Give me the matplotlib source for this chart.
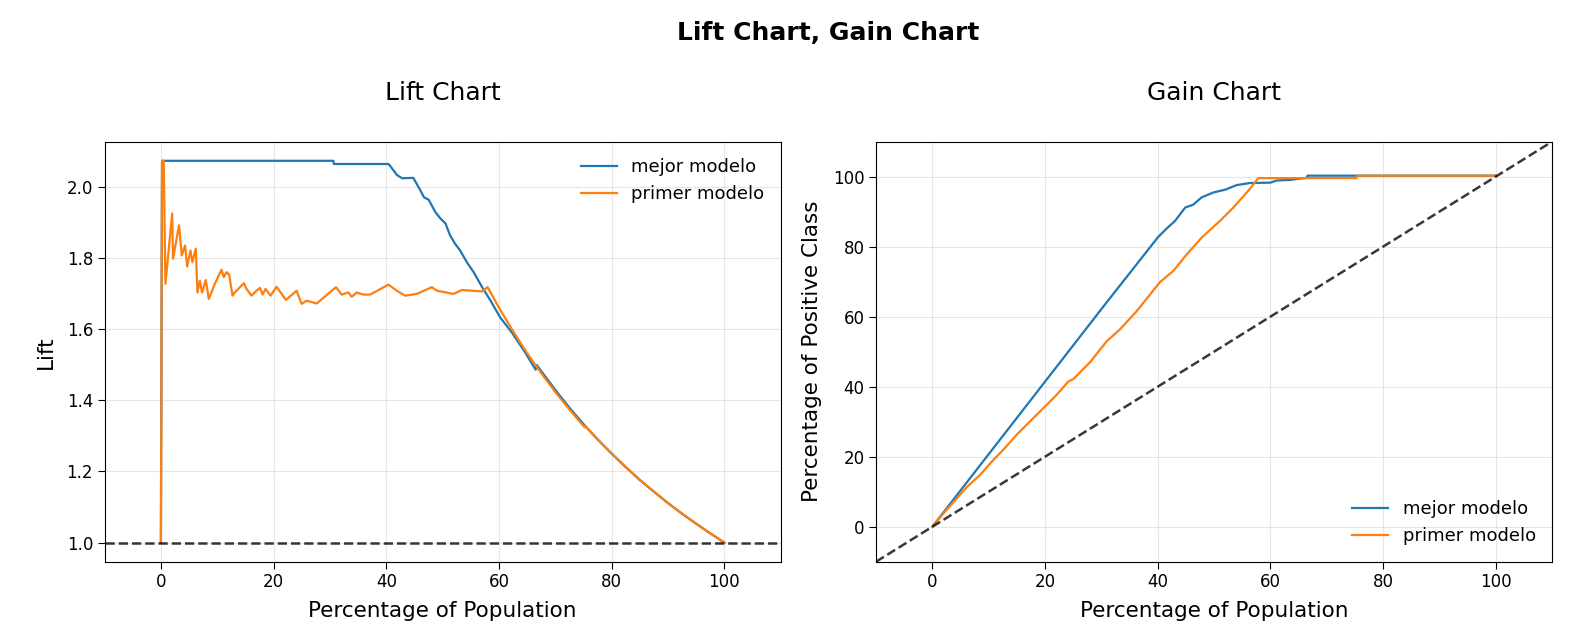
import matplotlib
matplotlib.use("Agg")
import matplotlib.pyplot as plt

# values
# lift chart - mejor modelo
lift_x_mejor = [0, 0.2, 30.6, 30.7, 40.4, 41.0, 41.9, 42.8, 44.8, 46.0, 46.7, 47.5,
                48.7, 49.6, 50.5, 51.3, 52.2, 53.1, 54.3, 55.5, 57.0, 58.5, 60.2,
                62.3, 64.5, 66.5, 66.7, 70, 72.5, 75, 77.5, 80, 82.5, 85, 87.5,
                90, 92.5, 95, 97.5, 100]
lift_y_mejor = [1.0, 2.073, 2.073, 2.064, 2.064, 2.052, 2.033, 2.024, 2.025, 1.991,
                1.970, 1.964, 1.929, 1.911, 1.897, 1.864, 1.840, 1.821, 1.788,
                1.760, 1.718, 1.680, 1.633, 1.590, 1.538, 1.486, 1.499, 1.429,
                1.379, 1.333, 1.290, 1.250, 1.212, 1.176, 1.143, 1.111, 1.081,
                1.053, 1.026, 1.0]

# lift chart - primer modelo
lift_x_primer = [0, 0.2, 0.5, 0.8, 2.0, 2.15, 3.22, 3.70, 4.29, 4.65, 5.24, 5.59,
                 6.19, 6.48, 6.90, 7.31, 7.96, 8.50, 9.56, 10.75, 11.16, 11.64,
                 12.11, 12.71, 13.12, 14.72, 15.19, 16.08, 16.97, 17.56, 18.04,
                 18.57, 19.46, 20.53, 22.19, 24.08, 24.97, 25.86, 27.64, 31.08,
                 32.08, 33.27, 33.86, 34.75, 35.93, 37.12, 40.38, 41.86, 43.34,
                 45.42, 48.08, 48.97, 51.93, 53.42, 56.97, 57.98, 60, 62.5, 65,
                 67.5, 70, 72.5, 75.2, 75.3, 77.5, 80, 82.5, 85, 87.5, 90, 92.5,
                 95, 97.5, 100]
lift_y_primer = [1.0, 2.073, 2.073, 1.727, 1.925, 1.798, 1.892, 1.807, 1.835, 1.776,
                 1.821, 1.788, 1.826, 1.703, 1.736, 1.703, 1.738, 1.685, 1.727,
                 1.767, 1.746, 1.760, 1.753, 1.694, 1.703, 1.729, 1.713, 1.694,
                 1.708, 1.716, 1.697, 1.713, 1.694, 1.719, 1.682, 1.708, 1.671,
                 1.680, 1.672, 1.718, 1.697, 1.703, 1.691, 1.703, 1.697, 1.697,
                 1.725, 1.708, 1.694, 1.699, 1.718, 1.708, 1.699, 1.710, 1.706,
                 1.718, 1.660, 1.594, 1.532, 1.476, 1.423, 1.374, 1.324, 1.328,
                 1.290, 1.250, 1.212, 1.176, 1.143, 1.111, 1.081, 1.053, 1.026, 1.0]

# gain chart - mejor modelo
gain_x_mejor = [0, 30.6, 40.1, 41.6, 43.1, 44.9, 46.3, 47.8, 49.9, 52.0, 54.0,
                56.4, 60.0, 61.1, 63.5, 66.5, 66.6, 100]
gain_y_mejor = [0, 63.4, 82.8, 85.2, 87.4, 91.2, 92.0, 94.1, 95.5, 96.3, 97.6,
                98.2, 98.3, 98.9, 99.1, 99.7, 100.3, 100.3]

# gain chart - primer modelo
gain_x_primer = [0, 0.5, 2.0, 3.2, 6.1, 8.47, 10.83, 12.61, 14.98, 18.53, 20.6,
                 22.08, 24.15, 25.04, 28.0, 30.96, 33.32, 36.28, 40.42, 42.79,
                 45.16, 47.82, 51.07, 53.44, 56.1, 57.88, 75.3, 75.4, 100]
gain_y_primer = [0, 1.0, 3.85, 6.05, 11.3, 14.8, 19.1, 22.0, 26.3, 32.0, 35.3,
                 37.7, 41.5, 42.2, 47.0, 53.0, 56.4, 61.6, 69.9, 73.1, 77.8,
                 82.6, 87.4, 91.2, 96.0, 99.6, 99.6, 100.3, 100.3]

labels = ["mejor modelo", "primer modelo"]

plt.rcParams["xtick.major.size"] = 4.8
plt.rcParams["ytick.major.size"] = 4.8

fig = plt.figure(figsize=(15.77, 6.43), dpi=100)
fig.text(0.525, 1 - 40 / 643, "Lift Chart, Gain Chart", ha="center",
         va="baseline", fontsize=18, fontweight="bold")

#Lift chart
ax1 = fig.add_axes([0.0663, 0.1264, 0.4288, 0.6532])
ax1.plot(lift_x_mejor, lift_y_mejor, color="#1f77b4", lw=1.6, label=labels[0])
ax1.plot(lift_x_primer, lift_y_primer, color="#ff7f0e", lw=1.6, label=labels[1])
ax1.axhline(1, color="k", ls="--", lw=1.8, alpha=0.78)
ax1.set_xlim(-10, 110)
ax1.set_title("Lift Chart", fontsize=18, pad=30)
ax1.set_xlabel("Percentage of Population", fontsize=15.5, labelpad=7)
ax1.set_ylabel("Lift", fontsize=15.5, labelpad=8)
ax1.tick_params(labelsize=12)
ax1.grid(alpha=0.3)
ax1.legend(loc="upper right", frameon=False, fontsize=13)

#Gain chart
ax2 = fig.add_axes([0.5555, 0.1264, 0.4286, 0.6532])
ax2.plot(gain_x_mejor, gain_y_mejor, color="#1f77b4", lw=1.6, label=labels[0])
ax2.plot(gain_x_primer, gain_y_primer, color="#ff7f0e", lw=1.6, label=labels[1])
ax2.plot([-10, 110], [-10, 110], color="k", ls="--", lw=1.8, alpha=0.78)
ax2.set_xlim(-10, 110)
ax2.set_ylim(-10, 110)
ax2.set_title("Gain Chart", fontsize=18, pad=30)
ax2.set_xlabel("Percentage of Population", fontsize=15.5, labelpad=7)
ax2.set_ylabel("Percentage of Positive Class", fontsize=15.5, labelpad=8)
ax2.tick_params(labelsize=12)
ax2.grid(alpha=0.3)
ax2.legend(loc="lower right", frameon=False, fontsize=13)

plt.savefig("out.png")
